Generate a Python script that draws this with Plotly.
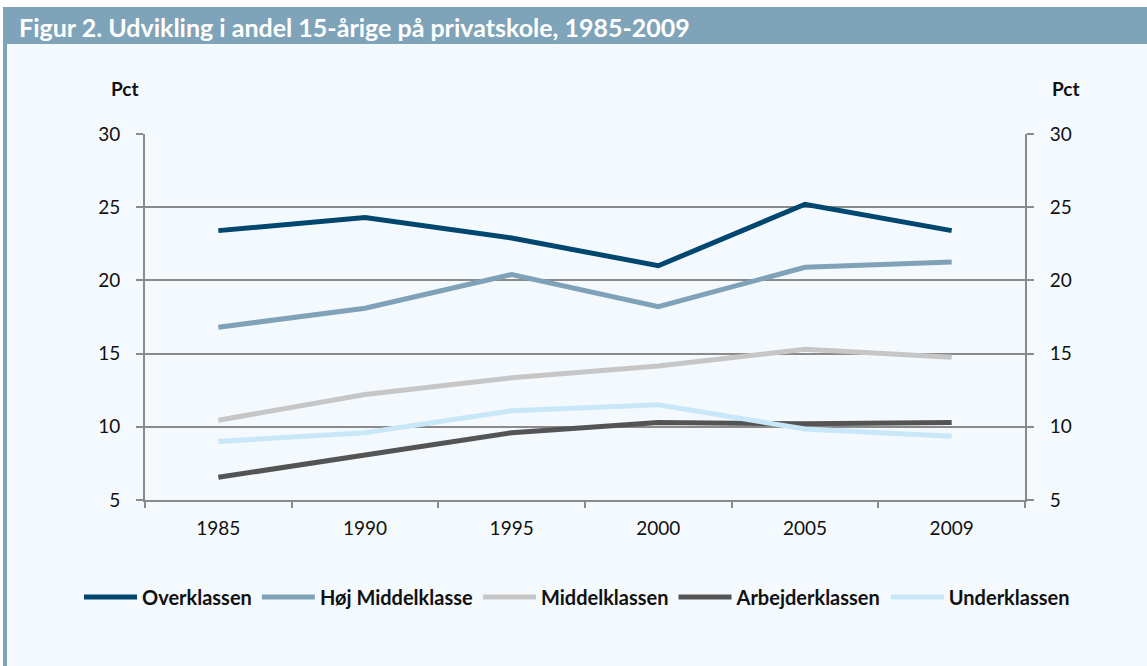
import plotly.graph_objects as go

years = ["1985", "1990", "1995", "2000", "2005", "2009"]
overklassen = [23.4, 24.3, 22.9, 21.0, 25.2, 23.4]
hoej_middelklasse = [16.8, 18.1, 20.4, 18.2, 20.9, 21.25]
middelklassen = [10.45, 12.2, 13.35, 14.15, 15.3, 14.75]
arbejderklassen = [6.55, 8.05, 9.6, 10.3, 10.2, 10.3]
underklassen = [9.0, 9.6, 11.1, 11.5, 9.85, 9.35]

series = [
    ("Overklassen", overklassen, "#00476f"),
    ("Høj Middelklasse", hoej_middelklasse, "#7fa2b8"),
    ("Middelklassen", middelklassen, "#c6c6c6"),
    ("Arbejderklassen", arbejderklassen, "#545454"),
    ("Underklassen", underklassen, "#c8e7f8"),
]

title_text = "Figur 2. Udvikling i andel 15-årige på privatskole, 1985-2009"
y_ticks = [5, 10, 15, 20, 25, 30]

FONT = "Lato"
panel_bg = "#f4f9fd"
bar_col = "#7fa3b8"
axis_col = "#8a8a8a"
TICK_SIZE = 19

fig = go.Figure()
for name, vals, col in series:
    fig.add_trace(go.Scatter(x=years, y=vals, mode="lines", name="<b>" + name + "</b>",
                             line=dict(color=col, width=5)))
# invisible trace on right axis so it is drawn
fig.add_trace(go.Scatter(x=years, y=overklassen, yaxis="y2", mode="lines",
                         line=dict(width=0), showlegend=False, hoverinfo="skip",
                         opacity=0))

W, H = 1147, 666
L, R, T, B = 145, 1025, 134, 500

fig.update_layout(
    width=W, height=H,
    margin=dict(l=L, r=W - R, t=T, b=H - B, autoexpand=False),
    paper_bgcolor="white",
    plot_bgcolor=panel_bg,
    font=dict(family=FONT, size=TICK_SIZE, color="#111111"),
    xaxis=dict(type="category", tickson="boundaries", ticks="outside",
               ticklen=6, tickcolor=axis_col, tickwidth=2,
               showline=True, linecolor=axis_col, linewidth=2,
               showgrid=False, range=[-0.5, 5.5], ticklabelstandoff=10,
               tickangle=0, automargin=False,
               tickfont=dict(family=FONT, size=TICK_SIZE, color="#111111")),
    yaxis=dict(range=[5, 30], tickvals=y_ticks, ticks="outside", ticklen=7,
               tickcolor=axis_col, tickwidth=2, showline=True,
               linecolor=axis_col, linewidth=2, showgrid=True,
               gridcolor=axis_col, gridwidth=1.5, zeroline=False,
               ticklabelstandoff=12, automargin=False,
               tickfont=dict(family=FONT, size=TICK_SIZE, color="#111111")),
    yaxis2=dict(range=[5, 30], tickvals=y_ticks, overlaying="y", side="right",
                ticks="outside", ticklen=7, tickcolor=axis_col, tickwidth=2,
                showline=True, linecolor=axis_col, linewidth=2,
                showgrid=False, zeroline=False, ticklabelstandoff=12,
                automargin=False,
                tickfont=dict(family=FONT, size=TICK_SIZE, color="#111111")),
    legend=dict(orientation="h", x=(79 - L) / (R - L), xanchor="left",
                y=-(597 - B) / (B - T), yanchor="middle",
                bgcolor="rgba(0,0,0,0)",
                font=dict(family=FONT, size=20, color="#111111"),
                itemwidth=53, tracegroupgap=0),
    showlegend=True,
    shapes=[
        dict(type="rect", xref="paper", yref="paper", layer="below",
             x0=-(L - 3) / (R - L), x1=(W - L) / (R - L),
             y0=-(H - B) / (B - T), y1=(B - 44) / (B - T),
             fillcolor=panel_bg, line=dict(width=0)),
        dict(type="rect", xref="paper", yref="paper", layer="above",
             x0=-(L - 3) / (R - L), x1=(W - L) / (R - L),
             y0=(B - 44) / (B - T), y1=(B - 7) / (B - T),
             fillcolor=bar_col, line=dict(width=0)),
        dict(type="rect", xref="paper", yref="paper", layer="above",
             x0=-(L - 3) / (R - L), x1=-(L - 7) / (R - L),
             y0=-(H - B) / (B - T), y1=(B - 44) / (B - T),
             fillcolor=bar_col, line=dict(width=0)),
    ],
    annotations=[
        dict(text="<b>" + title_text + "</b>", xref="paper", yref="paper",
             x=-(L - 17) / (R - L), y=(B - 27) / (B - T), xanchor="left",
             yanchor="middle", showarrow=False,
             font=dict(family=FONT, size=25, color="white")),
        dict(text="<b>Pct</b>", xref="paper", yref="paper",
             x=(125 - L) / (R - L), y=(B - 88) / (B - T), xanchor="center",
             yanchor="middle", showarrow=False,
             font=dict(family=FONT, size=19, color="#111111")),
        dict(text="<b>Pct</b>", xref="paper", yref="paper",
             x=(1066 - L) / (R - L), y=(B - 88) / (B - T), xanchor="center",
             yanchor="middle", showarrow=False,
             font=dict(family=FONT, size=19, color="#111111")),
    ],
)

fig.write_html("out.html", config={"displayModeBar": False},
               post_script="document.body.style.margin='0px';")
